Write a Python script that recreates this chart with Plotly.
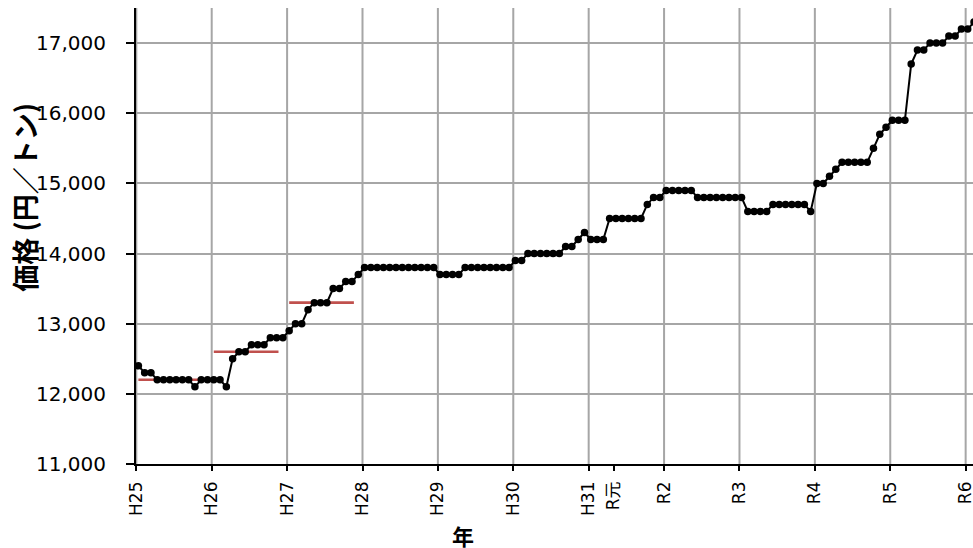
import numpy as np
import plotly.graph_objects as go

# monthly price (yen / ton), Jan H25 onward
price = ([12400] + [12300] * 2 + [12200] * 6 + [12100] + [12200] * 4 + [12100]
         + [12500] + [12600] * 2 + [12700] * 3 + [12800] * 3
         + [12900] + [13000] * 2 + [13200] + [13300] * 3 + [13500] * 2 + [13600] * 2 + [13700]
         + [13800] * 12
         + [13700] * 4 + [13800] * 8
         + [13900] * 2 + [14000] * 6 + [14100] * 2 + [14200] + [14300]
         + [14200] * 3 + [14500] * 6 + [14700] + [14800] * 2 + [14900] * 5
         + [14800] * 8 + [14600] * 4 + [14700] * 6 + [14600]
         + [15000] * 2 + [15100] + [15200] + [15300] * 5 + [15500] + [15700] + [15800]
         + [15900] * 3 + [16700] + [16900] * 2 + [17000] * 3 + [17100] * 2 + [17200] * 2 + [17300])

# yearly reference price (red bars), H25-H28
avg_years = [0, 1, 2, 3]
avg_price = [12200, 12600, 13300, 13800]

year_labels = ["H25", "H26", "H27", "H28", "H29", "H30", "H31", "R元",
               "R2", "R3", "R4", "R5", "R6"]
label_months = [0, 12, 24, 36, 48, 60, 72, 76, 84, 96, 108, 120, 132]
grid_months = [0, 12, 24, 36, 48, 60, 72, 84, 96, 108, 120, 132]

y_ticks = [11000, 12000, 13000, 14000, 15000, 16000, 17000]

x_off = 0.33  # points sit a little after the month line
months = np.arange(len(price)) + x_off

fig = go.Figure()

for yr, val in zip(avg_years, avg_price):
    fig.add_trace(go.Scatter(x=[yr * 12 + x_off, yr * 12 + x_off + 10.3], y=[val, val],
                             mode="lines", line=dict(color="#c0504d", width=2.6),
                             showlegend=False, hoverinfo="skip"))

fig.add_trace(go.Scatter(x=months, y=price, mode="lines+markers",
                         line=dict(color="black", width=2),
                         marker=dict(color="black", size=7.5),
                         showlegend=False))

for m in grid_months:
    fig.add_shape(type="line", x0=m, x1=m, y0=0, y1=1, xref="x", yref="paper",
                  line=dict(color="#a6a6a6", width=2), layer="below")

fig.update_layout(
    width=973, height=548,
    margin=dict(l=136, r=0, t=8, b=83.5),
    plot_bgcolor="white", paper_bgcolor="white",
    font=dict(family="DejaVu Sans, Noto Sans CJK JP", color="black"),
    xaxis=dict(range=[-0.05, 133.17], tickmode="array", tickvals=label_months,
               ticktext=year_labels, tickangle=-90, showgrid=False, zeroline=False,
               showline=True, linecolor="black", linewidth=1.5,
               ticks="outside", ticklen=5, tickcolor="black", tickwidth=1.5,
               ticklabelstandoff=4, ticklabeloverflow="allow",
               tickfont=dict(size=17), automargin=False),
    yaxis=dict(range=[11000, 17500], tickmode="array", tickvals=y_ticks,
               tickformat=",d", showgrid=True, gridcolor="#a6a6a6", gridwidth=2,
               zeroline=False, showline=True, linecolor="black", linewidth=2,
               ticks="outside", ticklen=8, tickcolor="black", tickwidth=1.5,
               ticklabelstandoff=16, tickfont=dict(size=20), automargin=False),
)

fig.add_annotation(text="<b>価格 (円／トン)</b>", xref="paper", yref="paper",
                   x=0, y=0.584, xshift=-111, textangle=-90, showarrow=False,
                   xanchor="center", yanchor="middle",
                   font=dict(family="Noto Sans CJK JP", size=27, color="black"))
fig.add_annotation(text="<b>年</b>", xref="paper", yref="paper",
                   x=0.391, y=0, yshift=-70.5, showarrow=False,
                   xanchor="center", yanchor="middle",
                   font=dict(family="Noto Sans CJK JP", size=22, color="black"))

# drop the default page margin so the figure fills the window exactly
fig.write_html("out.html", config={"displayModeBar": False},
               post_script="document.body.style.margin='0';")
